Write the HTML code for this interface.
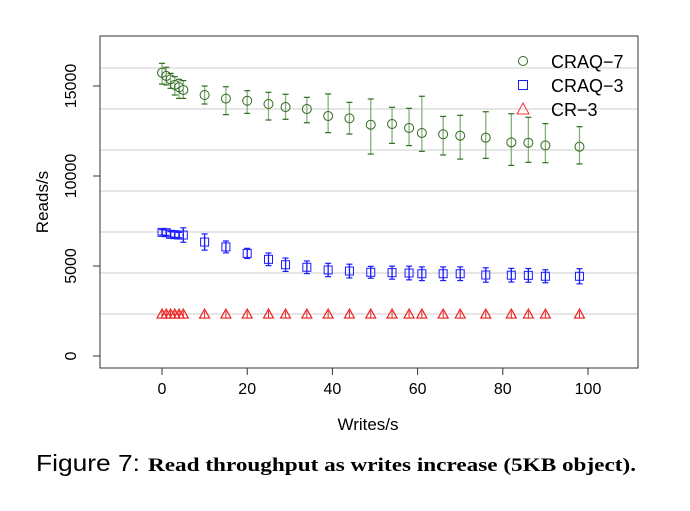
<!DOCTYPE html>
<html><head><meta charset="utf-8"><style>
body{margin:0;background:#fff;width:690px;height:506px;overflow:hidden}
svg text{font-family:"Liberation Sans",sans-serif}
</style></head><body>
<svg id="c" width="690" height="506">
<g id="grid"></g>
<rect x="100" y="36" width="538" height="332" fill="none" stroke="#333" stroke-width="1"/>
<g id="axes"></g>
<g id="marks"></g>
<g>
<circle cx="523" cy="61" r="4.5" fill="none" stroke="#2e6b1f"/>
<text x="551" y="68" font-size="18">CRAQ−7</text>
<rect x="518.5" y="80.5" width="9" height="9" fill="none" stroke="#1a1aff"/>
<text x="551" y="92" font-size="18">CRAQ−3</text>
<polygon points="523,103 529,114 517,114" fill="none" stroke="#ee3333"/>
<text x="551" y="116" font-size="18">CR−3</text>
</g>
<text x="368" y="430" font-size="17" text-anchor="middle">Writes/s</text>
<text transform="translate(48,202) rotate(-90)" font-size="17" text-anchor="middle">Reads/s</text>
<text x="36" y="471" font-size="23" textLength="104" lengthAdjust="spacingAndGlyphs">Figure 7:</text>
<text x="148" y="471" font-size="19" font-weight="bold" textLength="488" lengthAdjust="spacingAndGlyphs" style="font-family:'Liberation Serif',serif">Read throughput as writes increase (5KB object).</text>
</svg>
<script>
const writes=[0,1,2,3,4,5,10,15,20,25,29,34,39,44,49,54,58,61,66,70,76,82,86,90,98];
const craq7=[15740,15560,15370,15060,14930,14780,14500,14300,14180,14000,13830,13720,13330,13200,12850,12890,12670,12390,12320,12240,12130,11870,11850,11700,11630];
const craq7Hi=[16260,16040,15700,15520,15370,15300,15000,14960,14740,14650,14540,14370,14560,14090,14280,13820,13760,14430,13310,13370,13570,13460,13260,12910,12740];
const craq7Lo=[15110,15060,14870,14500,14310,14310,14000,13410,13480,13110,13150,12960,12410,12330,11220,11810,11690,11370,11170,10940,10980,10590,10760,10740,10670];
const craq3=[6870,6850,6760,6740,6720,6720,6330,6060,5700,5370,5070,4930,4780,4720,4650,4630,4610,4570,4570,4570,4500,4490,4480,4430,4430];
const craq3Err=[150,150,150,150,150,400,450,330,280,350,370,350,370,380,330,360,380,380,380,380,400,380,380,360,420];
const cr3=[2330,2330,2330,2330,2330,2330,2330,2330,2330,2330,2330,2330,2330,2330,2330,2330,2330,2330,2330,2330,2330,2330,2330,2330,2330];
const xTicks=[0,20,40,60,80,100];
const yTicks=[0,5000,10000,15000];
const gridYs=[68,109,150,191,232,273,314];
const X=w=>162+w*4.26, Y=v=>356-v*0.018;
const NS="http://www.w3.org/2000/svg";
function mk(p,t,a){const e=document.createElementNS(NS,t);for(const k in a)e.setAttribute(k,a[k]);p.appendChild(e);return e;}
const grid=document.getElementById('grid'),axes=document.getElementById('axes'),marks=document.getElementById('marks');
gridYs.forEach(g=>{const l=mk(grid,'line',{x1:100,x2:638,y1:g,y2:g,stroke:'#d8d8d8','stroke-width':1.2});

});
xTicks.forEach(t=>{mk(axes,'line',{x1:X(t),x2:X(t),y1:368,y2:375,stroke:'#333'});
const tx=mk(axes,'text',{x:X(t),y:394,'font-size':16,'text-anchor':'middle'});tx.textContent=t;

});
yTicks.forEach(t=>{mk(axes,'line',{x1:93,x2:100,y1:Y(t),y2:Y(t),stroke:'#333'});
const tx=mk(axes,'text',{transform:`translate(76,${Y(t)}) rotate(-90)`,'font-size':16,'text-anchor':'middle'});tx.textContent=t;

});
function err(x,hi,lo,col,cap){const g=mk(marks,'g',{});


mk(g,'line',{x1:x,x2:x,y1:Y(hi),y2:Y(lo),stroke:col,'stroke-width':1.3});
mk(g,'line',{x1:x-3,x2:x+3,y1:Y(hi),y2:Y(hi),stroke:cap,'stroke-width':1.2});
mk(g,'line',{x1:x-3,x2:x+3,y1:Y(lo),y2:Y(lo),stroke:cap,'stroke-width':1.2});}
writes.forEach((w,i)=>{const x=X(w);
err(x,craq7Hi[i],craq7Lo[i],'#8aae7c','#2e6b1f');
const c=mk(marks,'circle',{cx:x,cy:Y(craq7[i]),r:4.5,fill:'none',stroke:'#2e6b1f','stroke-width':1});


err(x,craq3[i]+craq3Err[i],craq3[i]-craq3Err[i],'#1a1aff','#1a1aff');
const s=mk(marks,'rect',{x:x-4,y:Y(craq3[i])-4,width:8,height:8,fill:'none',stroke:'#1a1aff','stroke-width':1});


const yy=Y(cr3[i]);
const t=mk(marks,'polygon',{points:`${x},${yy-5} ${x+5},${yy+4} ${x-5},${yy+4}`,fill:'none',stroke:'#ee2222','stroke-width':1.2});


mk(marks,'line',{x1:x,x2:x,y1:yy-3,y2:yy+4,stroke:'#ee2222','stroke-width':1});
});
</script>
</body></html>
